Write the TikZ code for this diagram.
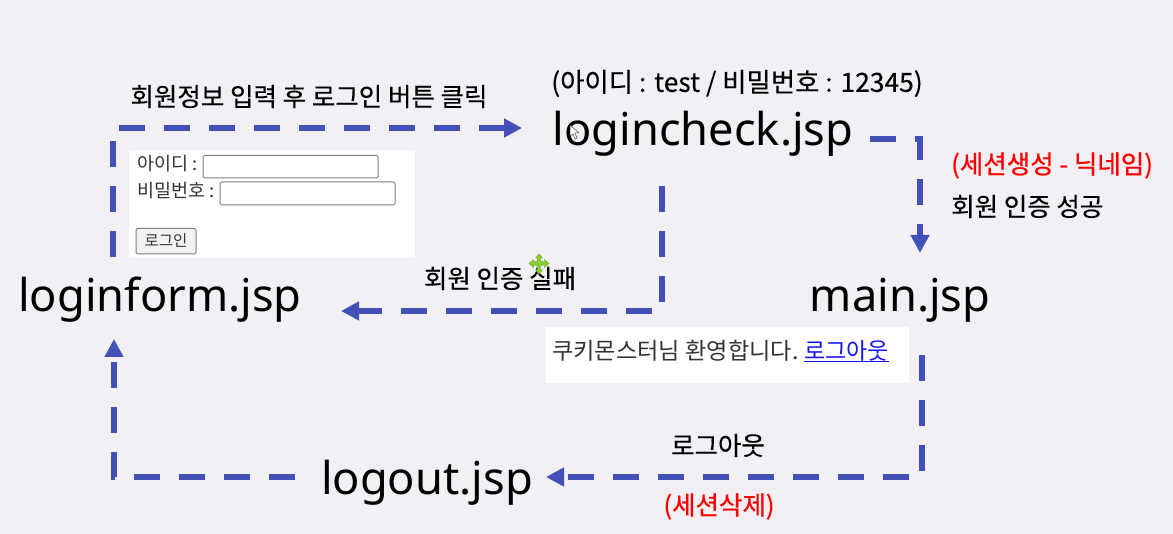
\documentclass[tikz,border=0pt]{standalone}
\usepackage{fontspec}
\setmainfont{Noto Sans CJK KR}
\newfontfamily\latfont{Noto Sans}
\newfontfamily\labfont[FakeBold=0.25]{Noto Sans CJK KR}
\newfontfamily\redfont[FakeBold=0.6]{Noto Sans CJK KR}
\usetikzlibrary{arrows.meta}
\definecolor{bgc}{RGB}{242,240,244}
\definecolor{flowc}{RGB}{67,80,184}
\definecolor{webc}{RGB}{51,51,51}
\definecolor{linkc}{RGB}{20,20,240}
\definecolor{crossc}{RGB}{135,205,45}
\tikzset{
  flow/.style={draw=flowc,line width=6.5pt,dash pattern=on 26pt off 19pt,
    -{Triangle[length=18pt,width=18pt,fill=flowc]}},
  jsp/.style={inner sep=0pt,text height=41pt,text depth=9pt,
    font=\latfont\fontsize{45.2}{50}\selectfont,text=black},
  lab/.style={inner sep=0pt,font=\labfont\fontsize{25.5}{30}\selectfont,text=black},
  redlab/.style={inner sep=0pt,font=\redfont\fontsize{25.5}{30}\selectfont,text=red},
  web/.style={inner sep=0pt,text=webc},
  panel/.style={draw=none,fill=white},
  field/.style={draw=black!50,line width=1pt,fill=white,rounded corners=1.5pt},
  btn/.style={draw=black!50,line width=1pt,fill=black!5,rounded corners=1.5pt},
}
\begin{document}
\begin{tikzpicture}[x=1pt,y=-1pt]
\useasboundingbox (0,0) rectangle (1173,534);
\fill[bgc] (0,0) rectangle (1173,534);
% white web panels
\fill[panel] (129,150) rectangle (415,258);
\fill[panel] (545.5,327) rectangle (909,383);
\draw[field] (203,155.5) rectangle (378,178);
\draw[field] (220,182) rectangle (395,205);
\draw[btn] (136,228.5) rectangle (196,254);
% pages
\node[jsp] (loginform) at (160,296) {loginform.jsp};
\node[jsp] (logincheck) at (703,130) {logincheck.jsp};
\node[jsp] (main) at (900,296) {main.jsp};
\node[jsp] (logout) at (427,478) {logout.jsp};
% connectors
\draw[flow] ([shift={(-47,-39)}]loginform.center) |- ([shift={(-181,-2)}]logincheck.center);
\draw[flow] ([shift={(167,9)}]logincheck.center) -| ([shift={(20,-43)}]main.center);
\draw[flow] ([shift={(-41,56)}]logincheck.center) |- ([shift={(181,15)}]loginform.center);
\draw[flow] ([shift={(22,59)}]main.center) |- ([shift={(119,-1)}]logout.center);
\draw[flow] ([shift={(-132,-1)}]logout.center) -| ([shift={(-46,43)}]loginform.center);
% labels
\node[lab] (l1) at (309,96.5) {회원정보 입력 후 로그인 버튼 클릭};
\node[lab,font=\labfont\fontsize{26.4}{32}\selectfont] (l2) at (737,83.5) {(아이디 : test / 비밀번호 : 12345)};
\node[redlab,anchor=west] (l3) at (951,165.5) {(세션생성 - 닉네임)};
\node[lab,anchor=west] (l4) at (951,206.5) {회원 인증 성공};
\node[lab] (l5) at (500,278.5) {회원 인증 실패};
\node[lab] (l6) at (718,445.5) {로그아웃};
\node[redlab] (l7) at (719,506.5) {(세션삭제)};
% web contents
\node[web,anchor=west,font=\fontsize{18.5}{22}\selectfont] (w1) at (137,164) {아이디 :};
\node[web,anchor=west,font=\fontsize{18.5}{22}\selectfont] (w2) at (137,190.5) {비밀번호 :};
\node[web,font=\fontsize{15.5}{18}\selectfont] (w3) at (166,241) {로그인};
\node[web,anchor=west,font=\fontsize{23.2}{27}\selectfont] (w4) at (552,351) {쿠키몬스터님 환영합니다.};
\node[web,anchor=west,text=linkc,font=\fontsize{23}{27}\selectfont] (w5) at (804,351) {로그아웃};
\draw[linkc,line width=1.5pt] (w5.west |- 0,361.5) -- (889,361.5);
% green cross cursor
\fill[crossc,draw=crossc!80!black,line width=.4pt]
 (539,254) -- (542.5,258) -- (540.7,258) -- (540.7,261.5) -- (544.5,261.5) -- (544.5,259.5) -- (549,263.5)
 -- (544.5,267.5) -- (544.5,265.5) -- (540.7,265.5) -- (540.7,270) -- (542.5,270) -- (539,274)
 -- (535.5,270) -- (537.3,270) -- (537.3,265.5) -- (533.5,265.5) -- (533.5,267.5) -- (529,263.5)
 -- (533.5,259.5) -- (533.5,261.5) -- (537.3,261.5) -- (537.3,258) -- (535.5,258) -- cycle;
% mouse pointer
\fill[white,draw=black!70,line width=.5pt] (570,125) -- (570,136) -- (573,134) -- (575,139) -- (577,138) -- (575,133) -- (579,133) -- cycle;
\end{tikzpicture}
\end{document}
